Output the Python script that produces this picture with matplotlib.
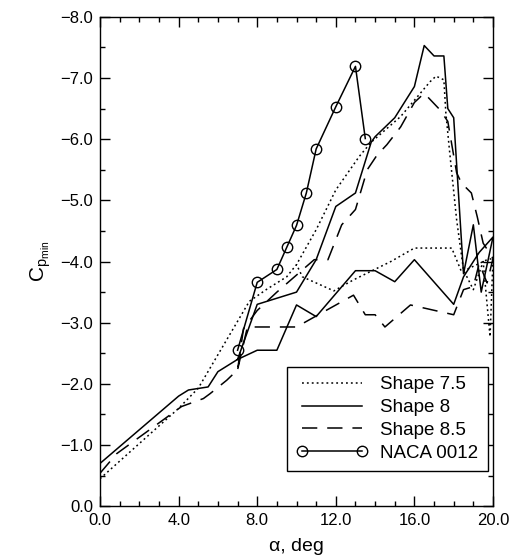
import matplotlib
matplotlib.use("Agg")
import matplotlib.pyplot as plt
from matplotlib.ticker import MultipleLocator, FuncFormatter

plt.rcParams['font.family'] = ['Liberation Sans', 'DejaVu Sans']
plt.rcParams['mathtext.fontset'] = 'custom'
plt.rcParams['mathtext.rm'] = 'Liberation Sans'
plt.rcParams['mathtext.it'] = 'Liberation Sans:italic'

# Shape 7.5 (dotted) - up sweep then return branch
alpha_75 = [0, 4, 5, 6.5, 7.6, 8.5, 9.5, 10, 11, 12, 13.2, 13.8, 15.3, 16.8, 17.1, 17.5,
            17.6, 17.8, 18.15, 18.5, 19, 19.5, 19.85, 20, 19.7, 18.4, 17.9, 16, 14.8,
            12.9, 11.9, 10.3, 10]
cp_75 = [-0.45, -1.6, -1.93, -2.75, -3.35, -3.55, -3.75, -3.95, -4.52, -5.17, -5.72, -5.95,
         -6.37, -6.94, -7.03, -6.97, -6.43, -5.77, -4.68, -3.86, -3.54, -4.0, -2.77, -4.05,
         -4.03, -3.83, -4.22, -4.22, -4.0, -3.7, -3.52, -3.75, -3.95]

# Shape 8 (solid)
alpha_8 = [0, 4, 4.5, 5.5, 6, 7, 8, 10, 11, 12, 13, 13.8, 14, 15, 16, 16.5, 17, 17.5, 17.7,
           18, 18.5, 19, 19.4, 20, 19.3, 18.5, 18, 16, 15, 14, 13, 11, 10, 9, 8, 7]
cp_8 = [-0.7, -1.8, -1.9, -1.95, -2.2, -2.4, -3.3, -3.5, -4.03, -4.9, -5.12, -5.95, -6.04,
        -6.35, -6.86, -7.53, -7.36, -7.36, -6.5, -6.35, -3.8, -4.6, -3.5, -4.4, -4.15, -3.75,
        -3.3, -4.03, -3.67, -3.85, -3.85, -3.1, -3.29, -2.55, -2.55, -2.4]

# Shape 8.5 (dashed)
alpha_85 = [0, 0.85, 4.15, 5.26, 5.6, 6.45, 7, 7.3, 8, 9, 10.9, 11.6, 12.3, 13, 13.6, 14.1,
            14.6, 15.3, 16, 16.5, 17.3, 17.7, 18.15, 18.4, 18.9, 19.2, 19.5, 20, 19.7, 19.3,
            19, 18.5, 18, 15.8, 14.5, 14, 13.5, 12.9, 11, 10, 7.5, 7]
cp_85 = [-0.54, -0.86, -1.63, -1.76, -1.84, -2.06, -2.23, -2.9, -3.2, -3.5, -4.03, -4.03,
         -4.6, -4.85, -5.5, -5.74, -5.91, -6.2, -6.6, -6.75, -6.48, -6.29, -5.45, -5.28,
         -5.12, -4.73, -4.3, -4.05, -3.65, -3.97, -3.59, -3.54, -3.13, -3.29, -2.93, -3.13,
         -3.13, -3.45, -3.11, -2.93, -2.93, -2.23]

# NACA 0012
alpha_naca = [7, 8, 9, 9.5, 10, 10.5, 11, 12, 13, 13.5]
cp_naca = [-2.55, -3.66, -3.87, -4.23, -4.59, -5.12, -5.84, -6.53, -7.19, -6.01]

fig = plt.figure(figsize=(5.13, 5.6), dpi=100)
ax = fig.add_axes([0.195, 0.096, 0.766, 0.874])

ax.plot(alpha_75, cp_75, color='black', lw=1.1, linestyle=(0, (1.2, 2.0)), label='Shape 7.5')
ax.plot(alpha_8, cp_8, color='black', lw=1.1, linestyle='-', label='Shape 8')
ax.plot(alpha_85, cp_85, color='black', lw=1.1, linestyle=(0, (10, 6.5)), label='Shape 8.5')
ax.plot(alpha_naca, cp_naca, color='black', lw=1.1, marker='o', ms=7.5, mfc='none',
        mec='black', mew=1.0, label='NACA 0012')

ax.set_xlim(0, 20)
ax.set_ylim(0, -8)
ax.xaxis.set_major_locator(MultipleLocator(4))
ax.xaxis.set_minor_locator(MultipleLocator(1))
ax.yaxis.set_major_locator(MultipleLocator(1))
ax.yaxis.set_minor_locator(MultipleLocator(0.5))
fmt = FuncFormatter(lambda v, p: ('%.1f' % v).replace('-', '\u2212') if abs(v) > 1e-9 else '0.0')
ax.xaxis.set_major_formatter(fmt)
ax.yaxis.set_major_formatter(fmt)
ax.tick_params(which='both', direction='in', top=True, right=True, labelsize=12)
ax.tick_params(which='major', length=7.5, width=1)
ax.tick_params(which='minor', length=3.8, width=1)
ax.tick_params(axis='x', pad=5)
ax.tick_params(axis='y', pad=5)
for s in ax.spines.values():
    s.set_linewidth(1.0)

ax.set_xlabel('\u03b1, deg', fontsize=14, labelpad=7)
ax.set_ylabel(r'$\mathrm{C_{p_{min}}}$', fontsize=15, labelpad=5)

leg = ax.legend(loc='lower right', bbox_to_anchor=(0.987, 0.072), borderaxespad=0,
                fontsize=13.5, handlelength=3.8, numpoints=2, fancybox=False, framealpha=1,
                edgecolor='black', borderpad=0.5, labelspacing=0.3, handletextpad=0.7)
leg.get_frame().set_linewidth(1.0)

fig.savefig('out.png', dpi=100)
